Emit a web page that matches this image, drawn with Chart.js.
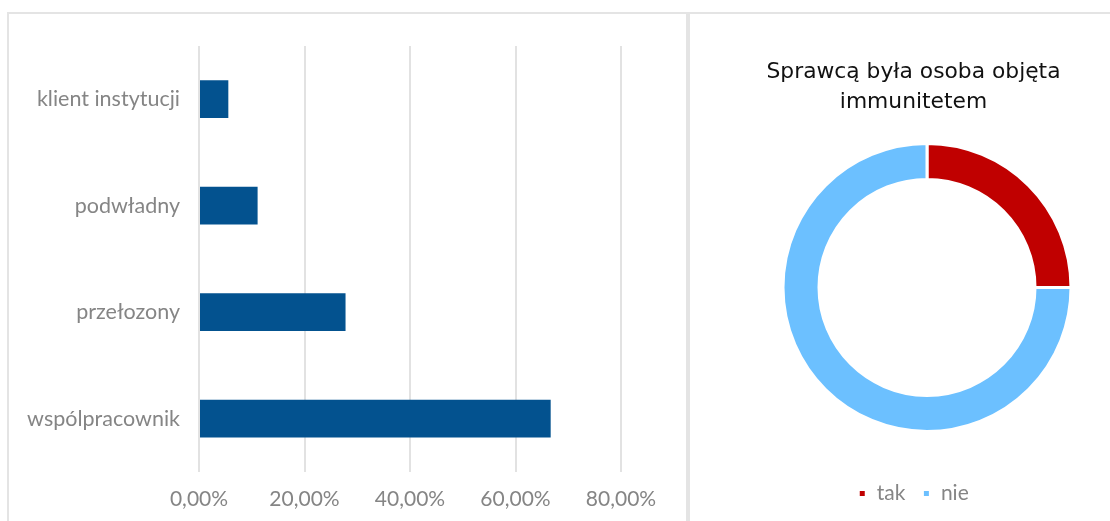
<!DOCTYPE html>
<html>
<head>
<meta charset="utf-8">
<script src="https://cdn.jsdelivr.net/npm/chart.js@4/dist/chart.umd.min.js"></script>
<style>
  html, body { margin: 0; padding: 0; background: #fff; overflow: hidden; }
  body { width: 1110px; height: 521px; position: relative; }
  .panel { position: absolute; box-sizing: border-box; border: 2px solid #e4e4e4; background: #fff; }
  #leftPanel { left: 7px; top: 12px; width: 681px; height: 530px; }
  #rightPanel { left: 688px; top: 12px; width: 470px; height: 530px; }
  canvas { position: absolute; }
  #barChart { left: 8px; top: 14px; }
  #ringChart { left: 690px; top: 14px; }
</style>
</head>
<body>
<div class="panel" id="leftPanel"></div>
<div class="panel" id="rightPanel"></div>
<canvas id="barChart" width="679" height="507"></canvas>
<canvas id="ringChart" width="447" height="500"></canvas>
<script>
// bar chart: who was the perpetrator
var bar_labels = ['klient instytucji', 'podwładny', 'przełozony', 'wspólpracownik'];
var bar_values = [5.56, 11.11, 27.78, 66.67];
var bar_ticks = [0, 20, 40, 60, 80];

// doughnut: perpetrator had immunity
var ring_title = ['Sprawcą była osoba objęta', 'immunitetem'];
var ring_labels = ['tak', 'nie'];
var ring_values = [25, 75];

const grey = '#858585';
Chart.defaults.font.family = 'Lato, "Open Sans", sans-serif';

function pctLabel(v) {
  return v.toFixed(2).replace('.', ',') + '%';
}

const barChart = new Chart(document.getElementById('barChart'), {
  type: 'bar',
  data: {
    labels: bar_labels,
    datasets: [{
      data: bar_values,
      backgroundColor: '#03528f',
      categoryPercentage: 0.8,
      barPercentage: 0.443
    }]
  },
  options: {
    indexAxis: 'y',
    responsive: false,
    animation: false,
    layout: { padding: { top: 29, right: 66, left: 0, bottom: 0 } },
    plugins: { legend: { display: false }, tooltip: { enabled: false } },
    scales: {
      x: {
        min: bar_ticks[0],
        max: bar_ticks[bar_ticks.length - 1],
        afterBuildTicks: function (scale) {
          scale.ticks = bar_ticks.map(function (v) { return { value: v }; });
        },
        afterFit: function (scale) { scale.height = 49; },
        grid: { color: '#e2e2e2', lineWidth: 2, drawTicks: false },
        border: { display: false },
        ticks: {
          color: grey,
          font: { size: 21 },
          padding: 15,
          callback: function (v) { return pctLabel(v); }
        }
      },
      y: {
        afterFit: function (scale) { scale.width = 191; },
        grid: { display: false, drawTicks: false },
        border: { display: false },
        ticks: { color: grey, font: { size: 21.5 }, padding: 19 }
      }
    }
  }
});

// moves the plot area (only the ring) sideways / up without touching title and legend
const plotShift = {
  id: 'plotShift',
  afterLayout(chart, args, opts) {
    const a = chart.chartArea;
    a.left += opts.dx; a.right += opts.dx;
    a.top += opts.dy; a.bottom += opts.dy;
  }
};

const ringChart = new Chart(document.getElementById('ringChart'), {
  type: 'doughnut',
  data: {
    labels: ring_labels,
    datasets: [{
      data: ring_values,
      backgroundColor: ['#c00000', '#6cc0ff'],
      borderColor: '#ffffff',
      borderWidth: 3,
      radius: 144,
      cutout: '75%'
    }]
  },
  plugins: [plotShift],
  options: {
    responsive: false,
    animation: false,
    plugins: {
      plotShift: { dx: 13.5, dy: -4 },
      tooltip: { enabled: false },
      title: {
        display: true,
        text: ring_title,
        color: '#111',
        font: { family: '"DejaVu Sans", sans-serif', size: 21.8, weight: 'normal', lineHeight: 1.35 },
        padding: { top: 44, bottom: 0 }
      },
      legend: {
        position: 'bottom',
        labels: {
          color: grey,
          font: { size: 21 },
          boxWidth: 8,
          boxHeight: 8,
          padding: 17
        }
      }
    }
  }
});
</script>
</body>
</html>
